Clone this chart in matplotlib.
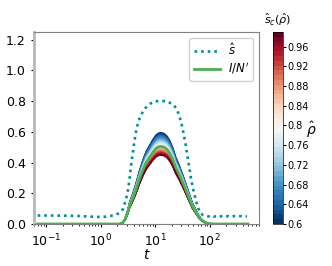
import numpy as np
import matplotlib
matplotlib.use("Agg")
import matplotlib.pyplot as plt
from matplotlib import cm, colors

# s-hat curve (dotted teal)
t_s = [0.07, 0.12, 0.2, 0.3, 0.45, 0.65, 0.9, 1.2, 1.5, 1.8, 2.05, 2.3, 2.55,
       2.85, 3.1, 3.35, 3.6, 3.9, 4.2, 4.6, 5.2, 6.0, 7.0, 8.3, 10, 12, 14,
       17, 21, 24, 27, 30, 33, 36, 39, 42, 46, 50, 55, 60, 67, 75, 85, 95,
       105, 118, 132, 150, 170, 195, 220, 250, 285, 325, 370, 420, 480]
s_hat = [0.055, 0.055, 0.054, 0.053, 0.051, 0.048, 0.046, 0.047, 0.052, 0.058,
         0.066, 0.078, 0.095, 0.15, 0.2, 0.28, 0.38, 0.47, 0.55, 0.63, 0.69,
         0.735, 0.765, 0.785, 0.798, 0.80, 0.80, 0.795, 0.78, 0.755, 0.715,
         0.66, 0.59, 0.52, 0.44, 0.37, 0.28, 0.22, 0.16, 0.11, 0.072, 0.058,
         0.053, 0.049, 0.054, 0.047, 0.052, 0.046, 0.053, 0.048, 0.051, 0.047,
         0.052, 0.049, 0.051, 0.047, 0.05]

# I/N' profile (green curve)
t_i = [0.07, 0.5, 1.5, 2.2, 2.5, 2.8, 3.1, 3.4, 3.9, 4.4, 5.1, 5.9, 6.8, 7.9,
       9.0, 10.2, 11.5, 12.6, 14.5, 16.5, 18.5, 21, 23.7, 27, 32, 37, 42.7,
       48, 55, 62, 68, 76, 84, 100, 120, 200, 500]
i_green = [0.0, 0.0, 0.0, 0.0, 0.006, 0.03, 0.07, 0.12, 0.17, 0.22, 0.29, 0.35,
           0.4, 0.435, 0.465, 0.49, 0.502, 0.505, 0.5, 0.485, 0.46, 0.42, 0.37,
           0.33, 0.27, 0.215, 0.16, 0.115, 0.08, 0.05, 0.03, 0.017, 0.008,
           0.002, 0.0, 0.0, 0.0]
green_peak = 0.505

# colour family: rho values and peak heights of the I/N' curves
rho = [0.60, 0.61, 0.62, 0.63, 0.64, 0.65, 0.66, 0.67, 0.68, 0.69,
       0.70, 0.71, 0.72, 0.73, 0.74, 0.75, 0.76, 0.77, 0.78, 0.79,
       0.80, 0.81, 0.82, 0.83, 0.84, 0.85, 0.86, 0.87, 0.88, 0.89,
       0.90, 0.91, 0.92, 0.93, 0.94, 0.95, 0.96, 0.97, 0.98, 0.99]
peaks = [0.595, 0.590, 0.585, 0.580, 0.576, 0.571, 0.567, 0.562, 0.558, 0.553,
         0.549, 0.545, 0.541, 0.537, 0.533, 0.529, 0.525, 0.521, 0.518, 0.514,
         0.510, 0.507, 0.503, 0.500, 0.496, 0.493, 0.489, 0.486, 0.483, 0.480,
         0.476, 0.473, 0.470, 0.467, 0.464, 0.461, 0.458, 0.455, 0.452, 0.448]

cbar_ticks = [0.6, 0.64, 0.68, 0.72, 0.76, 0.8, 0.84, 0.88, 0.92, 0.96]


def main():
    fig = plt.figure(figsize=(3.32, 2.66), dpi=100)
    ax = fig.add_axes([0.1024, 0.158, 0.678, 0.722])
    cax = fig.add_axes([0.822, 0.158, 0.030, 0.722])

    cmap = plt.get_cmap("RdBu_r", len(rho))
    norm = colors.Normalize(vmin=rho[0], vmax=rho[-1])

    base = np.array(i_green) / green_peak
    for r, p in zip(rho, peaks):
        ax.plot(t_i, base * p, color=cmap(norm(r)), lw=1.0)

    ax.plot(t_s, s_hat, color="#009090", lw=1.9, linestyle=(0, (1, 1.5)),
            label=r"$\hat{s}$")
    ax.plot(t_i, i_green, color="#4caf50", lw=2.0, label=r"$I/N'$")

    ax.set_xscale("log")
    ax.set_xlim(0.06, 800)
    ax.set_ylim(0, 1.25)
    ax.set_yticks([0, 0.2, 0.4, 0.6, 0.8, 1.0, 1.2])
    ax.tick_params(labelsize=9, length=2.5)
    ax.tick_params(which="minor", length=1.5)
    ax.set_xlabel("$t$", fontsize=10, labelpad=-1)
    for s in ax.spines.values():
        s.set_color("#808080")
    ax.spines["left"].set_color("#b8b8b8")
    ax.spines["left"].set_linewidth(2)

    ax.legend(loc="upper right", fontsize=8.5, handlelength=2.2,
              handletextpad=0.7, borderpad=0.35, labelspacing=0.25,
              borderaxespad=0.5, framealpha=0.9)

    sm = cm.ScalarMappable(norm=norm, cmap=cmap)
    cb = fig.colorbar(sm, cax=cax, ticks=cbar_ticks)
    cb.ax.set_yticklabels([f"{v:g}" for v in cbar_ticks])
    cb.ax.tick_params(labelsize=7, length=2, pad=1)
    cb.outline.set_linewidth(0.5)
    cb.ax.set_title(r"$\hat{s}_c(\hat{\rho})$", fontsize=8, pad=6)
    cb.set_label(r"$\hat{\rho}$", fontsize=10, rotation=0, va="center",
                 ha="center")
    cb.ax.yaxis.set_label_coords(3.85, 0.49)

    fig.savefig("out.png", dpi=100)


if __name__ == "__main__":
    main()
